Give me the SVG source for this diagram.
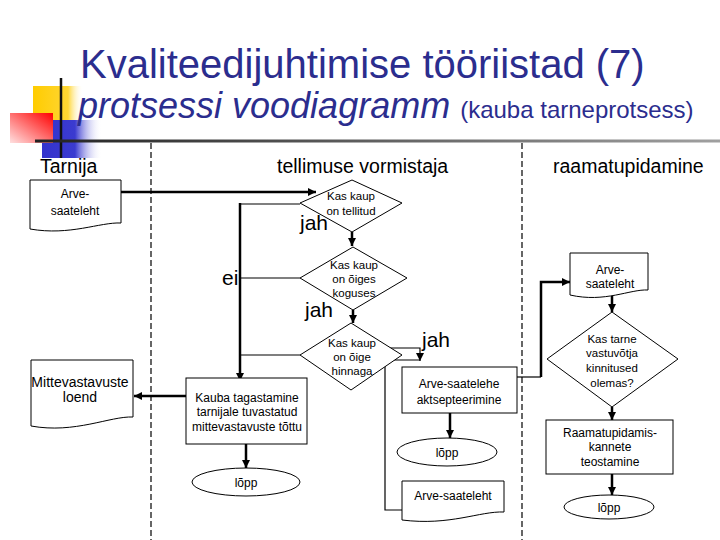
<svg xmlns="http://www.w3.org/2000/svg" width="720" height="540" viewBox="0 0 720 540">
<defs>
<linearGradient id="gY" x1="0" y1="0" x2="1" y2="0"><stop offset="0" stop-color="#FFCC00"/><stop offset="0.7" stop-color="#FFD633"/><stop offset="1" stop-color="#FFFFFF" stop-opacity="0"/></linearGradient>
<linearGradient id="gB" x1="0" y1="0" x2="1" y2="0"><stop offset="0" stop-color="#3333CC"/><stop offset="0.55" stop-color="#3B3BD0"/><stop offset="1" stop-color="#FFFFFF" stop-opacity="0"/></linearGradient>
<linearGradient id="gR" x1="1" y1="0" x2="0" y2="1"><stop offset="0" stop-color="#FF0000"/><stop offset="1" stop-color="#FFE0E0"/></linearGradient>
<linearGradient id="gL" x1="0" y1="0" x2="1" y2="0"><stop offset="0" stop-color="#222222"/><stop offset="1" stop-color="#A0A0A0"/></linearGradient>
<marker id="ah" markerUnits="userSpaceOnUse" markerWidth="9" markerHeight="9" refX="8" refY="4" orient="auto"><path d="M0,0 L8,4 L0,8 z" fill="#000"/></marker>
</defs>
<style>
.t{font-family:"Liberation Sans",Arial,sans-serif;fill:#000;text-anchor:middle}
.n{font-size:12px}
.d{font-size:11.5px}
.lane{font-family:"Liberation Sans",Arial,sans-serif;font-size:19.5px;fill:#000}
.lbl{font-family:"Liberation Sans",Arial,sans-serif;font-size:21px;fill:#000}
.shape{fill:#fff;stroke:#000;stroke-width:1}
.thick{fill:none;stroke:#000;stroke-width:2.5}
.thin{fill:none;stroke:#000;stroke-width:1.2}
.dash{stroke:#000;stroke-width:1.2;stroke-dasharray:6 3}
.title{font-family:"Liberation Sans",Arial,sans-serif;fill:#2B2D8E}
</style>
<rect width="720" height="540" fill="#fff"/>
<g id="decor">
<rect x="33" y="86" width="50" height="36" fill="url(#gY)"/>
<rect x="42" y="120" width="60" height="38" fill="url(#gB)"/>
<rect x="10" y="113" width="43" height="30" fill="url(#gR)"/>
<line x1="61" y1="78" x2="61" y2="158" stroke="#111" stroke-width="2.5"/>
<rect x="35" y="139.5" width="685" height="3" fill="url(#gL)"/>
</g>
<g id="title">
<text class="title" x="80" y="78" font-size="40">Kvaliteedijuhtimise tööriistad (7)</text>
<text class="title" x="78" y="118" font-size="36" font-style="italic">protsessi voodiagramm <tspan font-size="24" font-style="normal">(kauba tarneprotsess)</tspan></text>
</g>
<g id="lanes">
<line class="dash" x1="151" y1="143" x2="151" y2="540"/>
<line class="dash" x1="522" y1="143" x2="522" y2="540"/>
<text class="lane" x="40" y="173">Tarnija</text>
<text class="lane" x="277" y="173">tellimuse vormistaja</text>
<text class="lane" x="553" y="173">raamatupidamine</text>
</g>
<g id="connectors">
<path class="thick" d="M121,192 H316" marker-end="url(#ah)"/>
<path class="thin" d="M300,204 H240"/>
<path class="thick" d="M240,203 V381" marker-end="url(#ah)"/>
<path class="thick" d="M352,232 V246" marker-end="url(#ah)"/>
<path class="thin" d="M300,278 H240"/>
<path class="thick" d="M353,310 V323" marker-end="url(#ah)"/>
<path class="thin" d="M300,355 H240"/>
<path class="thin" d="M388,348 H420 V361" marker-end="url(#ah)"/>
<path class="thin" d="M420,360 H385 V510 H402"/>
<path class="thick" d="M450,413 V438" marker-end="url(#ah)"/>
<path class="thin" d="M517,377 H541"/>
<path class="thick" d="M541,377 V282 H570" marker-end="url(#ah)"/>
<path class="thick" d="M612,296 V312" marker-end="url(#ah)"/>
<path class="thick" d="M612,407 V420" marker-end="url(#ah)"/>
<path class="thick" d="M612,474 V495" marker-end="url(#ah)"/>
<path class="thick" d="M186,396 H134" marker-end="url(#ah)"/>
<path class="thick" d="M246,444 V468" marker-end="url(#ah)"/>
</g>
<g id="doc-tarnija">
<path class="shape" d="M30,180 H121 V223 C100,222 70,236 30,229 Z"/>
<text class="t n" x="75" y="198">Arve-</text>
<text class="t n" x="75" y="215">saateleht</text>
</g>
<g id="dec1">
<path class="shape" d="M352,180 L402,203 L352,232 L300,203 Z"/>
<text class="t d" x="351" y="200">Kas kaup</text>
<text class="t d" x="351" y="215">on tellitud</text>
</g>
<text class="lbl" x="300" y="230">jah</text>
<g id="dec2">
<path class="shape" d="M353,247 L407,278 L353,310 L300,278 Z"/>
<text class="t d" x="354" y="269">Kas kaup</text>
<text class="t d" x="354" y="283">on õiges</text>
<text class="t d" x="354" y="297">koguses</text>
</g>
<text class="lbl" x="222" y="285">ei</text>
<text class="lbl" x="305" y="317">jah</text>
<g id="dec3">
<path class="shape" d="M351,323 L402,355 L351,390 L300,355 Z"/>
<text class="t d" x="352" y="347">Kas kaup</text>
<text class="t d" x="352" y="361">on õige</text>
<text class="t d" x="352" y="375">hinnaga</text>
</g>
<text class="lbl" x="422" y="347">jah</text>
<g id="box-aktsept">
<rect class="shape" x="402" y="367" width="115" height="46"/>
<text class="t n" x="459" y="388">Arve-saatelehe</text>
<text class="t n" x="459" y="404">aktsepteerimine</text>
</g>
<g id="end-mid">
<ellipse class="shape" cx="447" cy="452" rx="50" ry="14"/>
<text class="t n" x="447" y="457">lõpp</text>
</g>
<g id="doc-bottom">
<path class="shape" d="M402,481 H504 V512 C480,511 450,526 402,520 Z"/>
<text class="t n" x="453" y="500">Arve-saateleht</text>
</g>
<g id="doc-right">
<path class="shape" d="M570,253 H648 V290 C630,289 605,303 570,295 Z"/>
<text class="t n" x="610" y="274">Arve-</text>
<text class="t n" x="610" y="288">saateleht</text>
</g>
<g id="dec4">
<path class="shape" d="M612,312 L678,359 L612,407 L547,359 Z"/>
<text class="t d" x="612" y="343">Kas tarne</text>
<text class="t d" x="612" y="357">vastuvõtja</text>
<text class="t d" x="612" y="372">kinnitused</text>
<text class="t d" x="612" y="387">olemas?</text>
</g>
<g id="box-raamat">
<rect class="shape" x="546" y="420" width="127" height="54"/>
<text class="t n" x="610" y="437">Raamatupidamis-</text>
<text class="t n" x="610" y="451">kannete</text>
<text class="t n" x="610" y="466">teostamine</text>
</g>
<g id="end-right">
<ellipse class="shape" cx="609" cy="507" rx="45" ry="12"/>
<text class="t n" x="609" y="512">lõpp</text>
</g>
<g id="box-kauba">
<rect class="shape" x="186" y="378" width="121" height="66"/>
<text class="t n" x="247" y="402">Kauba tagastamine</text>
<text class="t n" x="247" y="416">tarnijale tuvastatud</text>
<text class="t n" x="247" y="431">mittevastavuste tõttu</text>
</g>
<g id="doc-mittevast">
<path class="shape" d="M31,360 H133 V417 C110,416 75,434 31,426 Z"/>
<text class="t" x="80" y="387" font-size="14">Mittevastavuste</text>
<text class="t" x="80" y="402" font-size="14">loend</text>
</g>
<g id="end-left">
<ellipse class="shape" cx="246" cy="482" rx="54" ry="14"/>
<text class="t n" x="246" y="487">lõpp</text>
</g>
</svg>
